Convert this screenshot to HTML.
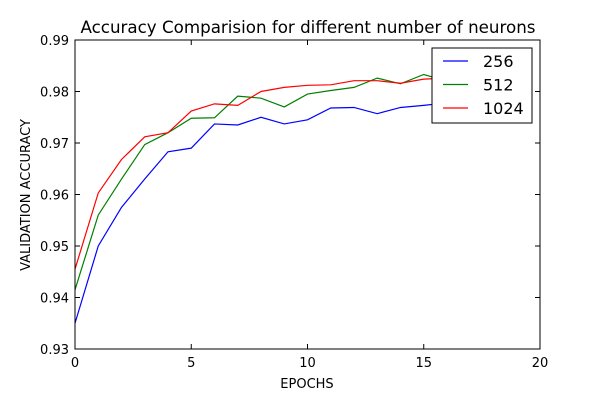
<!DOCTYPE html>
<html><head><meta charset="utf-8"><style>
body{margin:0;background:#fff;}
svg text{font-family:"DejaVu Sans","Liberation Sans",sans-serif;}
</style></head><body>
<svg id="chart" width="600" height="400" xmlns="http://www.w3.org/2000/svg"></svg>
<script>
const epochs=[0,1,2,3,4,5,6,7,8,9,10,11,12,13,14,15,16,17,18,19];
const acc256=[0.935,0.950,0.9575,0.963,0.9683,0.969,0.9737,0.9735,0.975,0.9737,0.9745,0.9768,0.9769,0.9757,0.9769,0.9773,0.9778,0.9780,0.9782,0.9785];
const acc512=[0.9415,0.956,0.963,0.9697,0.972,0.9748,0.9749,0.9791,0.9787,0.977,0.9795,0.9802,0.9808,0.9826,0.9815,0.9833,0.982,0.9825,0.9828,0.983];
const acc1024=[0.9455,0.9603,0.9668,0.9712,0.972,0.9762,0.9776,0.9773,0.980,0.9808,0.9812,0.9813,0.9821,0.9821,0.9816,0.9824,0.9826,0.9828,0.983,0.9832];
const xTicks=[0,5,10,15,20];
const yTicks=[0.93,0.94,0.95,0.96,0.97,0.98,0.99];
const seriesNames=["256","512","1024"];
const L=75,R=540,T=40,B=349;
const xs=v=>L+(v-0)/(20-0)*(R-L);
const ys=v=>B-(v-0.93)/(0.99-0.93)*(B-T);
const svg=document.getElementById('chart');
const NS="http://www.w3.org/2000/svg";
function mk(tag,attrs,parent){const e=document.createElementNS(NS,tag);for(const k in attrs)e.setAttribute(k,attrs[k]);(parent||svg).appendChild(e);return e;}
let t=mk('text',{x:308,y:33,'text-anchor':'middle','font-size':16.7});t.textContent="Accuracy Comparision for different number of neurons";


const colors=["#0000ff","#008000","#ff0000"];
const data=[acc256,acc512,acc1024];
data.forEach((arr,i)=>{
  const p=mk('polyline',{points:arr.map((v,j)=>xs(epochs[j])+','+ys(v)).join(' '),fill:'none',stroke:colors[i],'stroke-width':1.2});
  
  
});
const frame=mk('rect',{x:L,y:T,width:R-L,height:B-T,fill:'none',stroke:'#000','stroke-width':1});


xTicks.forEach(v=>{
  const x=xs(v);
  mk('line',{x1:x,x2:x,y1:B,y2:B-5,stroke:'#000'});
  mk('line',{x1:x,x2:x,y1:T,y2:T+5,stroke:'#000'});
  const tx=mk('text',{x:x,y:B+18,'text-anchor':'middle','font-size':13});tx.textContent=v;
  
  
});
yTicks.forEach(v=>{
  const y=ys(v);
  mk('line',{x1:L,x2:L+5,y1:y,y2:y,stroke:'#000'});
  mk('line',{x1:R,x2:R-5,y1:y,y2:y,stroke:'#000'});
  const ty=mk('text',{x:L-6,y:y+5,'text-anchor':'end','font-size':13});ty.textContent=v.toFixed(2);
  
  
});
const xl=mk('text',{x:307,y:388,'text-anchor':'middle','font-size':13});xl.textContent="EPOCHS";


const yl=mk('text',{x:30,y:195,'text-anchor':'middle','font-size':13,transform:'rotate(-90 30 195)'});yl.textContent="VALIDATION ACCURACY";


const lg=mk('g',{});


mk('rect',{x:432,y:48,width:100,height:75,fill:'#fff',stroke:'#000'},lg);
seriesNames.forEach((n,i)=>{
  const y=61+i*23.5;
  mk('line',{x1:443,x2:468,y1:y,y2:y,stroke:colors[i],'stroke-width':1.2},lg);
  const lt=mk('text',{x:483,y:y+6,'font-size':16},lg);lt.textContent=n;
  
  
});
</script>
</body></html>
